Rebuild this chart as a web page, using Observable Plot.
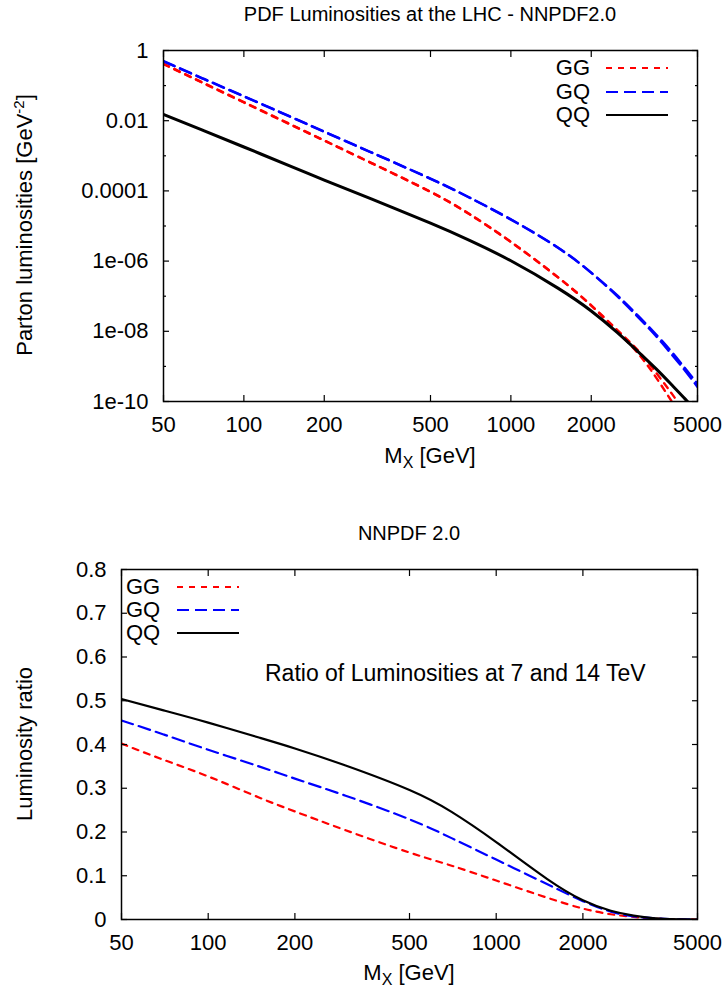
<!DOCTYPE html>
<html><head><meta charset="utf-8">
<script src="https://cdn.jsdelivr.net/npm/d3@7"></script>
<script src="https://cdn.jsdelivr.net/npm/@observablehq/plot@0.6"></script>
<style>
body{margin:0;background:#fff;}
#root{position:relative;width:726px;height:994px;font-family:"Liberation Sans",Arial,sans-serif;color:#000;overflow:hidden;}
.t{position:absolute;white-space:nowrap;font-size:22px;line-height:1;}
.c{transform:translate(-50%,-50%);}
.rot{transform:translate(-50%,-50%) rotate(-90deg);}
sub{font-size:16px;vertical-align:-5px;line-height:0;}
sup{font-size:15px;vertical-align:8px;line-height:0;}
</style></head><body><div id="root"></div>
<script>
// ---------- data ----------
const mass = [50, 70, 100, 150, 200, 300, 500, 700, 1000, 1500, 2000, 2500, 3000, 3500, 4000, 4500, 5000];
// top panel: parton luminosities [GeV^-2] (two close curves per channel)
const lumGGhi = [0.42, 0.123, 0.034, 7.8e-3, 2.75e-3, 6.3e-4, 9.5e-5, 2.2e-5, 3.55e-6, 3.5e-7, 5.5e-8, 1.1e-8, 2.8e-9, 6.6e-10, 1.7e-10, 4.7e-11, 1.35e-11];
const lumGGlo = [0.41, 0.120, 0.033, 7.6e-3, 2.7e-3, 6.2e-4, 9.3e-5, 2.15e-5, 3.5e-6, 3.45e-7, 5.4e-8, 1.0e-8, 2.3e-9, 4.8e-10, 1.02e-10, 2.5e-11, 6.3e-12];
const lumGQhi = [0.50, 0.162, 0.050, 0.0129, 4.9e-3, 1.26e-3, 2.24e-4, 6.5e-5, 1.55e-5, 2.45e-6, 4.7e-7, 1.07e-7, 2.75e-8, 8.1e-9, 2.6e-9, 8.7e-10, 3.2e-10];
const lumGQlo = [0.49, 0.159, 0.049, 0.0127, 4.8e-3, 1.24e-3, 2.2e-4, 6.4e-5, 1.52e-5, 2.4e-6, 4.6e-7, 1.0e-7, 2.5e-8, 7.2e-9, 2.2e-9, 7.4e-10, 2.6e-10];
const lumQQ   = [0.0151, 5.37e-3, 1.78e-3, 5.0e-4, 2.04e-4, 5.9e-5, 1.2e-5, 3.9e-6, 1.02e-6, 1.7e-7, 3.8e-8, 9.3e-9, 2.6e-9, 8.5e-10, 3.0e-10, 1.17e-10, 4.9e-11];
// bottom panel: luminosity ratio 7 TeV / 14 TeV
const ratioMass = [50, 70, 100, 150, 200, 300, 500, 700, 1000, 1500, 2000, 2500, 3000, 3500, 4000, 5000];
const ratioGG = [0.402, 0.365, 0.327, 0.279, 0.247, 0.204, 0.153, 0.123, 0.089, 0.050, 0.025, 0.012, 0.006, 0.002, 0.001, 0.000];
const ratioGQ = [0.455, 0.423, 0.388, 0.350, 0.322, 0.283, 0.229, 0.186, 0.137, 0.081, 0.042, 0.018, 0.007, 0.003, 0.001, 0.000];
const ratioQQ = [0.504, 0.478, 0.450, 0.416, 0.391, 0.352, 0.296, 0.246, 0.177, 0.093, 0.044, 0.020, 0.009, 0.003, 0.001, 0.000];

const seriesNames = ["GG", "GQ", "QQ"];
const seriesColors = ["#ff0000", "#0000ff", "#000000"];
const seriesDash = ["6,6", "12,6", null];

const xTicks = [50, 100, 200, 500, 1000, 2000, 5000];
const topYTicks = [1, 1e-2, 1e-4, 1e-6, 1e-8, 1e-10];
const topYLabels = ["1", "0.01", "0.0001", "1e-06", "1e-08", "1e-10"];
const topYMinor = [1e-1, 1e-3, 1e-5, 1e-7, 1e-9];
const botYTicks = [0, 0.1, 0.2, 0.3, 0.4, 0.5, 0.6, 0.7, 0.8];
const botYLabels = ["0", "0.1", "0.2", "0.3", "0.4", "0.5", "0.6", "0.7", "0.8"];

const topTitle = "PDF Luminosities at the LHC - NNPDF2.0";
const botTitle = "NNPDF 2.0";
const botNote = "Ratio of Luminosities at 7 and 14 TeV";

// ---------- build ----------
const root = document.getElementById("root");
const FONT = '"Liberation Sans", Arial, sans-serif';
const rows = (xs, ys) => xs.map((x, i) => ({x, y: ys[i]}));
const nearestLabel = (ticks, labels, log) => d => {
  let best = 0, bd = Infinity;
  ticks.forEach((t, i) => {
    const dd = log ? Math.abs(Math.log10(t) - Math.log10(d)) : Math.abs(t - d);
    if (dd < bd) { bd = dd; best = i; }
  });
  return labels[best];
};

function axes(ticksX, ticksY, fmtY, minorY) {
  const base = {label: null, strokeWidth: 1.2};
  return [
    Plot.axisX({...base, anchor: "bottom", ticks: ticksX, tickSize: -6, tickFormat: () => ""}),
    Plot.axisX({...base, anchor: "top", ticks: ticksX, tickSize: -6, tickFormat: () => ""}),
    Plot.axisX({label: null, anchor: "bottom", ticks: ticksX, tickSize: 0, tickPadding: 15, tickFormat: d => String(d)}),
    Plot.axisY({...base, anchor: "left", ticks: ticksY, tickSize: -6, tickFormat: () => ""}),
    Plot.axisY({...base, anchor: "right", ticks: ticksY, tickSize: -6, tickFormat: () => ""}),
    ...(minorY ? [
      Plot.axisY({...base, anchor: "left", ticks: minorY, tickSize: -3, tickFormat: () => ""}),
      Plot.axisY({...base, anchor: "right", ticks: minorY, tickSize: -3, tickFormat: () => ""})
    ] : []),
    Plot.axisY({label: null, anchor: "left", ticks: ticksY, tickSize: 0, tickPadding: 15, tickFormat: fmtY})
  ];
}

// Top panel
const topLines = [
  [lumGGhi, 0], [lumGGlo, 0], [lumGQhi, 1], [lumGQlo, 1], [lumQQ, 2]
].map(([ys, s]) => Plot.line(rows(mass, ys), {
  x: "x", y: "y", stroke: seriesColors[s], strokeWidth: s === 2 ? 3 : 2.4,
  strokeDasharray: seriesDash[s] || undefined, clip: true, curve: "natural"
}));

const topPlot = Plot.plot({
  width: 726, height: 470,
  marginTop: 50, marginBottom: 69, marginLeft: 163, marginRight: 29,
  style: {fontFamily: FONT, fontSize: "22px", background: "transparent", color: "#000", overflow: "visible"},
  x: {type: "log", domain: [50, 5000]},
  y: {type: "log", domain: [1e-10, 1]},
  marks: [
    ...topLines,
    Plot.frame({stroke: "#000", strokeWidth: 1.5}),
    ...axes(xTicks, topYTicks, nearestLabel(topYTicks, topYLabels, true), topYMinor)
  ]
});
topPlot.style.position = "absolute"; topPlot.style.left = "0px"; topPlot.style.top = "0px";
root.appendChild(topPlot);

// Bottom panel
const botLines = [[ratioGG, 0], [ratioGQ, 1], [ratioQQ, 2]].map(([ys, s]) => Plot.line(rows(ratioMass, ys), {
  x: "x", y: "y", stroke: seriesColors[s], strokeWidth: 2.2,
  strokeDasharray: seriesDash[s] || undefined, clip: true, curve: "natural"
}));
const botPlot = Plot.plot({
  width: 726, height: 524,
  marginTop: 99, marginBottom: 75, marginLeft: 121, marginRight: 29,
  style: {fontFamily: FONT, fontSize: "22px", background: "transparent", color: "#000", overflow: "visible"},
  x: {type: "log", domain: [50, 5000]},
  y: {type: "linear", domain: [0, 0.8]},
  marks: [
    ...botLines,
    Plot.frame({stroke: "#000", strokeWidth: 1.5}),
    ...axes(xTicks, botYTicks, nearestLabel(botYTicks, botYLabels, false), null)
  ]
});
botPlot.style.position = "absolute"; botPlot.style.left = "0px"; botPlot.style.top = "470px";
root.appendChild(botPlot);

// Text overlays
function txt(html, x, y, cls, size) {
  const d = document.createElement("div");
  d.className = "t " + (cls || "c");
  d.style.left = x + "px"; d.style.top = y + "px";
  if (size) d.style.fontSize = size + "px";
  d.innerHTML = html;
  root.appendChild(d);
  return d;
}
txt(topTitle, 430, 14, "c", 20);
txt(botTitle, 409, 533, "c", 20);
txt("M<sub>X</sub> [GeV]", 430, 456);
txt("M<sub>X</sub> [GeV]", 409, 973);
txt("Parton luminosities [GeV<sup>-2</sup>]", 25, 225, "rot", 22);
txt("Luminosity ratio", 25, 744, "rot", 22);
const note = txt(botNote, 265, 673, "", 23);
note.style.transform = "translateY(-50%)";

// Legends
function legend(rowsY, textX, align, lineX1, lineX2) {
  seriesNames.forEach((name, i) => {
    const d = document.createElement("div");
    d.className = "t";
    d.textContent = name;
    d.style.top = rowsY[i] + "px";
    if (align === "right") { d.style.right = (726 - textX) + "px"; d.style.textAlign = "right"; }
    else { d.style.left = textX + "px"; }
    d.style.transform = "translateY(-50%)";
    root.appendChild(d);
    const svg = d3.create("svg").attr("width", lineX2 - lineX1 + 2).attr("height", 6)
      .style("position", "absolute").style("left", lineX1 + "px").style("top", (rowsY[i] - 3) + "px");
    svg.append("line").attr("x1", 0).attr("x2", lineX2 - lineX1).attr("y1", 3).attr("y2", 3)
      .attr("stroke", seriesColors[i]).attr("stroke-width", 2.2)
      .attr("stroke-dasharray", seriesDash[i]);
    root.appendChild(svg.node());
  });
}
legend([68, 92, 115], 590, "right", 606, 668);
legend([587, 610, 633], 126, "left", 177, 239);
</script>
</body></html>
